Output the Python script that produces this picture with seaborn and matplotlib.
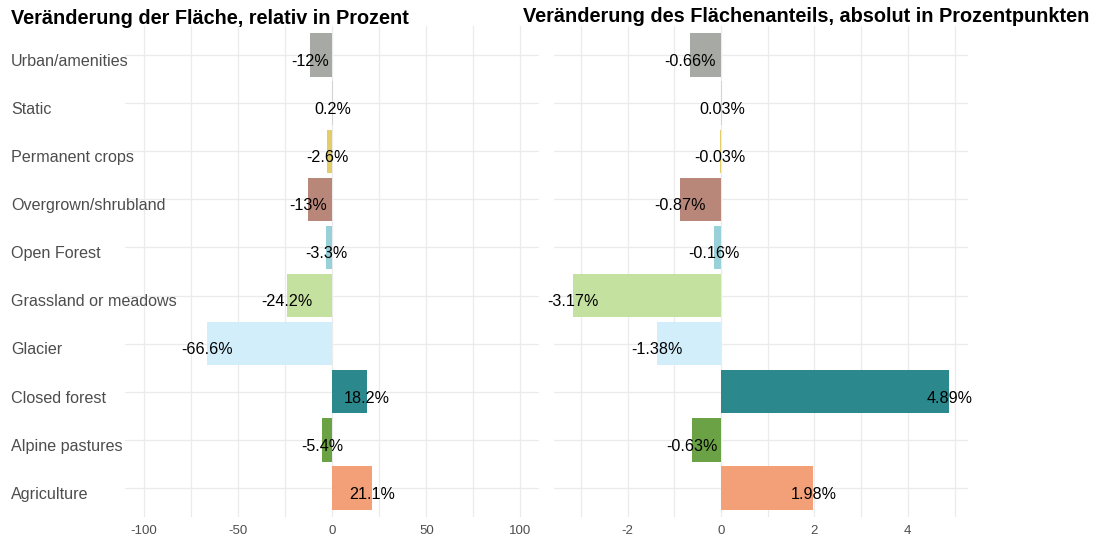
import matplotlib
matplotlib.use("Agg")
import matplotlib.pyplot as plt
import matplotlib.transforms as mtransforms
from matplotlib.ticker import MultipleLocator
import seaborn as sns
import pandas as pd

# Land-cover categories (top to bottom)
categories = [
    "Urban/amenities", "Static", "Permanent crops", "Overgrown/shrubland",
    "Open Forest", "Grassland or meadows", "Glacier", "Closed forest",
    "Alpine pastures", "Agriculture",
]
# Relative change of area, in percent
relative_change = [-12, 0.2, -2.6, -13, -3.3, -24.2, -66.6, 18.2, -5.4, 21.1]
relative_labels = ["-12%", "0.2%", "-2.6%", "-13%", "-3.3%", "-24.2%", "-66.6%", "18.2%", "-5.4%", "21.1%"]
# Absolute change of area share, in percentage points
absolute_change = [-0.66, 0.03, -0.03, -0.87, -0.16, -3.17, -1.38, 4.89, -0.63, 1.98]
absolute_labels = ["-0.66%", "0.03%", "-0.03%", "-0.87%", "-0.16%", "-3.17%", "-1.38%", "4.89%", "-0.63%", "1.98%"]

colors = ["#a7a9a4", "#d3d3d3", "#e2cd69", "#b8877a", "#98d1d9",
          "#c5e1a0", "#d3eefb", "#2b898d", "#6aa245", "#f39f78"]
palette = dict(zip(categories, colors))

df = pd.DataFrame({
    "category": categories,
    "relative": relative_change,
    "absolute": absolute_change,
    "rel_label": relative_labels,
    "abs_label": absolute_labels,
})

sns.set_style("white")
plt.rcParams["font.family"] = ["Liberation Sans", "DejaVu Sans"]
plt.rcParams["axes.unicode_minus"] = False

W, H = 1099, 542
fig = plt.figure(figsize=(W / 100, H / 100), dpi=100)

ax_l = fig.add_axes([125.3 / W, 25.1 / H, 414 / W, 490.8 / H])
ax_r = fig.add_axes([554.1 / W, 25.1 / H, 414.1 / W, 490.8 / H])

grid_col = "#ebebeb"
text_dy = 0.13  # small downward nudge of row labels


def draw_panel(ax, col, label_col, xlim, major, minor):
    sns.barplot(data=df, x=col, y="category", hue="category", order=categories,
                hue_order=categories, palette=palette, saturation=1, width=0.9,
                legend=False, ax=ax, orient="h", linewidth=0, edgecolor="none")
    ax.set_xlim(*xlim)
    ax.set_ylim(len(categories) - 0.4, -0.6)
    ax.xaxis.set_major_locator(MultipleLocator(major))
    ax.xaxis.set_minor_locator(MultipleLocator(minor))
    ax.set_axisbelow(True)
    ax.grid(True, axis="x", which="major", color=grid_col, lw=0.9)
    ax.grid(True, axis="x", which="minor", color=grid_col, lw=0.9)
    ax.grid(True, axis="y", which="major", color=grid_col, lw=0.9)
    for s in ax.spines.values():
        s.set_visible(False)
    ax.tick_params(axis="both", which="both", length=0)
    ax.tick_params(axis="x", labelsize=9.5, labelcolor="#4d4d4d", pad=6)
    ax.set_yticklabels([])
    ax.set_xlabel("")
    ax.set_ylabel("")
    for i, (v, lab) in enumerate(zip(df[col], df[label_col])):
        ax.text(v, i + text_dy, lab, ha="center", va="center", fontsize=11.6, color="black")


draw_panel(ax_l, "relative", "rel_label", (-110, 110), 50, 25)
draw_panel(ax_r, "absolute", "abs_label", (-3.573, 5.293), 2, 1)

# Category names, left-aligned at the figure edge
trans = mtransforms.blended_transform_factory(fig.transFigure, ax_l.transData)
for i, c in enumerate(categories):
    ax_l.text(11 / W, i + text_dy, c, transform=trans, ha="left", va="center",
              fontsize=11.6, color="#4d4d4d")

fig.text(11 / W, 1 - 18 / H, "Veränderung der Fläche, relativ in Prozent",
         ha="left", va="center", fontsize=14.3, fontweight="bold", color="black")
fig.text(523 / W, 1 - 17 / H, "Veränderung des Flächenanteils, absolut in Prozentpunkten",
         ha="left", va="center", fontsize=14.3, fontweight="bold", color="black")

fig.savefig("out.png", dpi=100)
